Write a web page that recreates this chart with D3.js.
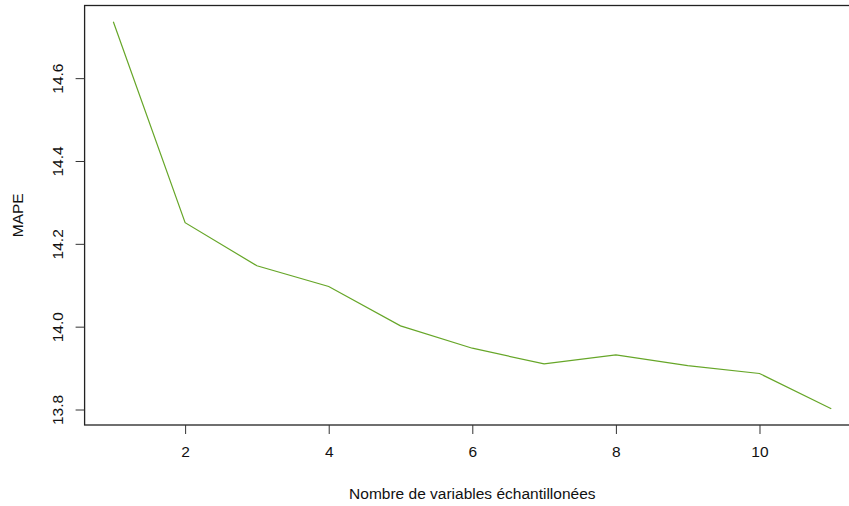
<!DOCTYPE html>
<html>
  <head>
    <style>
    body {
      font-family: Arial, "Liberation Sans", sans-serif;
      margin: 0;
      background: #fff;
      overflow: hidden;
    }
    svg { display: block; }
    </style>
  </head>
  <body>
    <script src="https://d3js.org/d3.v7.min.js"></script>
    <script>

    // nombre de variables / MAPE
    var nVars = [1, 2, 3, 4, 5, 6, 7, 8, 9, 10, 11];
    var mape = [14.736, 14.251, 14.147, 14.097, 14.002, 13.948, 13.910, 13.932, 13.906, 13.887, 13.802];
    var xTicks = [2, 4, 6, 8, 10];
    var yTicks = [13.8, 14.0, 14.2, 14.4, 14.6];

    var width = 849, height = 506;
    // le cadre dépasse à droite (image rognée)
    var pLeft = 84.6, pRight = 860, pTop = 5.5, pBottom = 425;
    var fs = "15.5px";

    var svg = d3.select("body").append("svg")
        .attr("width", width)
        .attr("height", height);

    var x = d3.scaleLinear().domain([0.6, 11.4]).range([pLeft, pRight]);
    var y = d3.scaleLinear().domain([13.7626, 14.7754]).range([pBottom, pTop]);

    // cadre
    svg.append("rect")
        .attr("x", pLeft).attr("y", pTop)
        .attr("width", pRight - pLeft).attr("height", pBottom - pTop)
        .style("fill", "none")
        .style("stroke", "#222")
        .style("stroke-width", 1.3);

    var line = d3.line()
        .x(function(d, i){ return x(nVars[i]); })
        .y(function(d){ return y(d); });

    svg.append("path")
        .datum(mape)
        .attr("d", line)
        .style("fill", "none")
        .style("stroke", "#66a628")
        .style("stroke-width", 1.2);

    // axe x
    var gx = svg.append("g")
        .attr("transform", "translate(0," + pBottom + ")")
        .call(d3.axisBottom(x).tickValues(xTicks).tickSize(9).tickPadding(12).tickFormat(d3.format("d")));
    gx.select(".domain").remove();
    gx.selectAll("line").style("stroke", "#333");
    gx.selectAll("text").style("font-size", fs).style("fill", "#111")
        .style("font-family", "Arial, 'Liberation Sans', sans-serif");

    // axe y (labels tournés comme dans R)
    var gy = svg.append("g")
        .attr("transform", "translate(" + pLeft + ",0)")
        .call(d3.axisLeft(y).tickValues(yTicks).tickSize(9).tickFormat(d3.format(".1f")));
    gy.select(".domain").remove();
    gy.selectAll("line").style("stroke", "#333");
    gy.selectAll(".tick text")
        .attr("x", 0).attr("y", 0).attr("dy", null)
        .attr("text-anchor", "middle")
        .attr("transform", "translate(-22,0) rotate(-90)")
        .style("font-size", fs).style("fill", "#111")
        .style("font-family", "Arial, 'Liberation Sans', sans-serif");

    svg.append("text")
        .attr("x", (pLeft + pRight) / 2)
        .attr("y", 499)
        .attr("text-anchor", "middle")
        .style("font-size", fs)
        .style("fill", "#111")
        .text("Nombre de variables échantillonées");

    svg.append("text")
        .attr("transform", "translate(23," + ((pTop + pBottom) / 2) + ") rotate(-90)")
        .attr("text-anchor", "middle")
        .style("font-size", fs)
        .style("fill", "#111")
        .text("MAPE");

    </script>
  </body>
</html>
